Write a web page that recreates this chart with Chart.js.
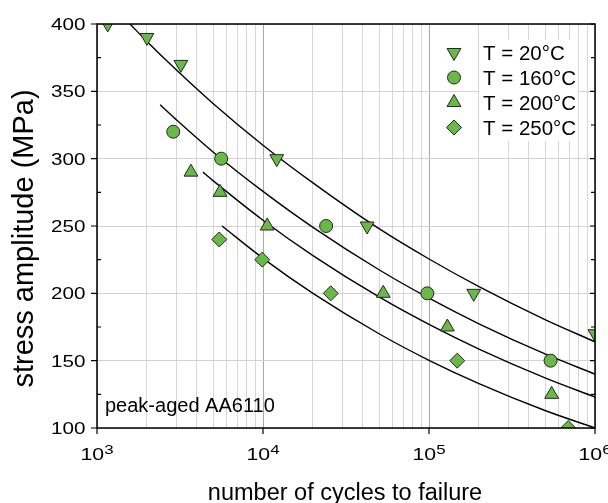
<!DOCTYPE html>
<html>
<head>
<meta charset="utf-8">
<title>S-N curves, peak-aged AA6110</title>
<script src="https://cdn.jsdelivr.net/npm/chart.js@4.4.1/dist/chart.umd.min.js"></script>
<style>
  html, body { margin: 0; padding: 0; background: #fff; }
  canvas { display: block; }
</style>
</head>
<body>
<canvas id="snChart" width="608" height="503"></canvas>
<script>
// fatigue tests: cycles to failure and stress amplitude (MPa) per test temperature
const cycles20 = [1160, 2000, 3200, 12100, 42400, 186000, 1000000];
const stress20 = [400, 390, 370, 300, 250, 200, 170];
const cycles160 = [2880, 5600, 24000, 97700, 540000];
const stress160 = [320, 300, 250, 200, 150];
const cycles200 = [3680, 5510, 10600, 53000, 129000, 548000];
const stress200 = [290, 275, 250, 200, 175, 125];
const cycles250 = [5450, 9900, 25600, 148000, 690000];
const stress250 = [240, 225, 200, 150, 100];

// fitted S-N curves
const fitCycles20 = [1580, 2000, 3000, 5000, 10000, 20000, 50000, 100000, 200000, 500000, 1000000];
const fitStress20 = [400, 387, 366, 341, 310, 282, 248, 225.5, 205, 180.5, 164];
const fitCycles160 = [2400, 3000, 5000, 10000, 20000, 50000, 100000, 200000, 500000, 1000000];
const fitStress160 = [340, 329, 305, 275.7, 249, 217.5, 196.4, 177.4, 155, 140];
const fitCycles200 = [4350, 5000, 10000, 20000, 50000, 100000, 200000, 500000, 1000000];
const fitStress200 = [290, 283.7, 254.3, 228, 197.3, 176.9, 158.6, 137.2, 123];
const fitCycles250 = [5665, 10000, 20000, 50000, 100000, 200000, 500000, 1000000];
const fitStress250 = [250, 226, 200, 170, 150.3, 133, 113, 100];

const seriesLabels = ['T = 20°C', 'T = 160°C', 'T = 200°C', 'T = 250°C'];
const xDecades = [1e3, 1e4, 1e5, 1e6];
const xExponents = ['3', '4', '5', '6'];
const yTicks = [100, 150, 200, 250, 300, 350, 400];
const yMinorTicks = [125, 175, 225, 275, 325, 375];

const FONT = '"Liberation Sans", Arial, sans-serif';
const GREEN = '#69b946';
const EDGE = '#262626';
const TICK_STRETCH = 1.25;

const markers = [
  { pointStyle: 'triangle', rotation: 180, radius: 8 },
  { pointStyle: 'circle', rotation: 0, radius: 6.5 },
  { pointStyle: 'triangle', rotation: 0, radius: 8 },
  { pointStyle: 'rectRot', rotation: 0, radius: 7.5 }
];

const pairs = (xs, ys) => xs.map((x, i) => ({ x: x, y: ys[i] }));

const measured = [
  pairs(cycles20, stress20),
  pairs(cycles160, stress160),
  pairs(cycles200, stress200),
  pairs(cycles250, stress250)
];
const fits = [
  pairs(fitCycles20, fitStress20),
  pairs(fitCycles160, fitStress160),
  pairs(fitCycles200, fitStress200),
  pairs(fitCycles250, fitStress250)
];

const datasets = [];
measured.forEach((data, i) => {
  datasets.push({
    label: seriesLabels[i],
    data: data,
    showLine: false,
    pointStyle: markers[i].pointStyle,
    rotation: markers[i].rotation,
    pointRadius: markers[i].radius,
    backgroundColor: GREEN,
    borderColor: EDGE,
    borderWidth: 1,
    clip: 0,
    order: 1
  });
});
fits.forEach((data, i) => {
  datasets.push({
    label: seriesLabels[i] + ' fit',
    data: data,
    showLine: true,
    pointRadius: 0,
    borderColor: '#000',
    borderWidth: 1.4,
    cubicInterpolationMode: 'monotone',
    clip: 0,
    order: 2
  });
});

// log ticks 1..9 per decade, used for the vertical grid
const logTicks = [];
xDecades.slice(0, -1).forEach(d => {
  for (let k = 1; k < 10; k++) logTicks.push({ value: d * k });
});
logTicks.push({ value: xDecades[xDecades.length - 1] });

function stretchedText(ctx, text, x, y, size, align) {
  ctx.save();
  ctx.translate(x, y);
  ctx.scale(TICK_STRETCH, 1);
  ctx.font = size + 'px ' + FONT;
  ctx.textAlign = align;
  ctx.textBaseline = 'alphabetic';
  ctx.fillText(text, 0, 0);
  ctx.restore();
}

const legendBox = { x: 479, y: 40, w: 99, h: 101 };

const decorations = {
  id: 'decorations',
  beforeDatasetsDraw(chart) {
    const ctx = chart.ctx;
    ctx.save();
    ctx.fillStyle = '#fff';
    ctx.fillRect(legendBox.x, legendBox.y, legendBox.w, legendBox.h);
    ctx.restore();
  },
  afterDraw(chart) {
    const ctx = chart.ctx;
    const { left, right, top, bottom } = chart.chartArea;
    const xs = chart.scales.x;
    const ys = chart.scales.y;

    ctx.save();
    ctx.strokeStyle = '#000';
    ctx.lineWidth = 1.5;
    ctx.strokeRect(left, top, right - left, bottom - top);

    ctx.lineWidth = 1.2;
    ctx.beginPath();
    yTicks.forEach(v => {
      const y = ys.getPixelForValue(v);
      ctx.moveTo(left - 6, y); ctx.lineTo(left, y);
      ctx.moveTo(right, y); ctx.lineTo(right - 5, y);
    });
    yMinorTicks.forEach(v => {
      const y = ys.getPixelForValue(v);
      ctx.moveTo(left, y); ctx.lineTo(left + 4, y);
      ctx.moveTo(right, y); ctx.lineTo(right - 4, y);
    });
    xDecades.forEach(v => {
      const x = xs.getPixelForValue(v);
      ctx.moveTo(x, bottom); ctx.lineTo(x, bottom + 6);
    });
    ctx.stroke();

    // tick labels
    ctx.fillStyle = '#000';
    yTicks.forEach(v => {
      const y = ys.getPixelForValue(v);
      stretchedText(ctx, String(v), 85.5, y + 5.9, 16.5, 'right');
    });
    xDecades.forEach((v, i) => {
      const x = xs.getPixelForValue(v);
      ctx.font = '17px ' + FONT;
      const w1 = ctx.measureText('10').width * TICK_STRETCH;
      ctx.font = '13.5px ' + FONT;
      const w2 = ctx.measureText(xExponents[i]).width * TICK_STRETCH;
      const x0 = x - (w1 + w2) / 2;
      stretchedText(ctx, '10', x0, 460, 17, 'left');
      stretchedText(ctx, xExponents[i], x0 + w1, 454, 13.5, 'left');
    });

    // axis titles
    ctx.font = '23.5px ' + FONT;
    ctx.textAlign = 'center';
    ctx.textBaseline = 'alphabetic';
    ctx.fillText('number of cycles to failure', 345, 500);

    ctx.save();
    ctx.translate(33, 238.5);
    ctx.rotate(-Math.PI / 2);
    ctx.font = '29px ' + FONT;
    ctx.fillText('stress amplitude (MPa)', 0, 0);
    ctx.restore();

    // alloy note
    ctx.font = '20px ' + FONT;
    ctx.textAlign = 'left';
    ctx.fillText('peak-aged AA6110', 105, 412);

    // legend
    ctx.font = '20.5px ' + FONT;
    seriesLabels.forEach((label, i) => {
      const cy = 52.5 + i * 25;
      ctx.fillStyle = GREEN;
      ctx.strokeStyle = EDGE;
      ctx.lineWidth = 1;
      Chart.helpers.drawPoint(ctx, {
        pointStyle: markers[i].pointStyle,
        rotation: markers[i].rotation,
        radius: markers[i].radius,
        borderWidth: 1
      }, 454, cy);
      ctx.fillStyle = '#000';
      ctx.fillText(label, 483, cy + 7.5);
    });
    ctx.restore();
  }
};

new Chart(document.getElementById('snChart').getContext('2d'), {
  type: 'scatter',
  data: { datasets: datasets },
  options: {
    responsive: false,
    animation: false,
    devicePixelRatio: 1,
    layout: { padding: { top: 24, right: 13, left: 0, bottom: 0 } },
    plugins: { legend: { display: false }, tooltip: { enabled: false } },
    scales: {
      x: {
        type: 'logarithmic',
        min: 1e3,
        max: 1e6,
        border: { display: false },
        ticks: { display: false },
        grid: {
          drawTicks: false,
          lineWidth: 1,
          color: c => (c.tick && xDecades.includes(c.tick.value)) ? '#a9a9a9' : '#d6d6d6'
        },
        afterBuildTicks: s => { s.ticks = logTicks.map(t => ({ value: t.value })); },
        afterFit: s => { s.height = 75; }
      },
      y: {
        min: 100,
        max: 400,
        border: { display: false },
        ticks: { display: false, stepSize: 50 },
        grid: { drawTicks: false, lineWidth: 1, color: '#d2d2d2' },
        afterFit: s => { s.width = 97; }
      }
    }
  },
  plugins: [decorations]
});
</script>
</body>
</html>
